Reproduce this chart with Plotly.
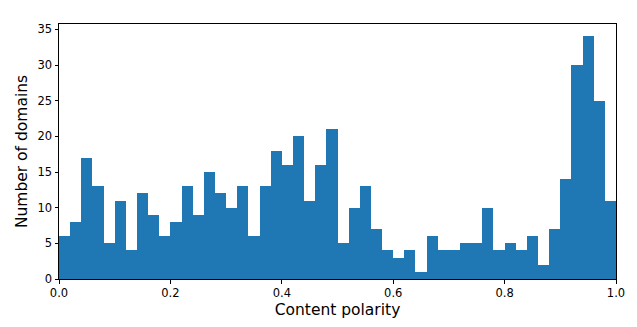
import plotly.graph_objects as go

bin_starts = [round(i * 0.02, 2) for i in range(50)]
counts = [6, 8, 17, 13, 5, 11, 4, 12, 9, 6,
          8, 13, 9, 15, 12, 10, 13, 6, 13, 18,
          16, 20, 11, 16, 21, 5, 10, 13, 7, 4,
          3, 4, 1, 6, 4, 4, 5, 5, 10, 4,
          5, 4, 6, 2, 7, 14, 30, 34, 25, 11]
bin_width = 0.02
x_ticks = [0.0, 0.2, 0.4, 0.6, 0.8, 1.0]
y_ticks = [0, 5, 10, 15, 20, 25, 30, 35]

fig = go.Figure(go.Bar(
    x=[b + bin_width / 2 for b in bin_starts],
    y=counts,
    width=bin_width,
    marker=dict(color="#1f77b4", line=dict(width=0)),
))

axis_common = dict(
    showgrid=False, zeroline=False, showline=True, linecolor="black",
    linewidth=1, mirror=True, ticks="outside", ticklen=3.5, tickcolor="black",
    tickfont=dict(family="DejaVu Sans", size=11.5, color="black"),
)

fig.update_layout(
    width=637, height=327,
    margin=dict(l=59, r=16, t=24, b=45),
    plot_bgcolor="white", paper_bgcolor="white",
    bargap=0, showlegend=False,
    xaxis=dict(range=[0, 1], tickvals=x_ticks, ticktext=[f"{v:.1f}" for v in x_ticks],
               title=dict(text="Content polarity", font=dict(family="DejaVu Sans", size=15.5, color="black"), standoff=4),
               **axis_common),
    yaxis=dict(range=[0, 35.75], tickvals=y_ticks,
               title=dict(text="Number of domains", font=dict(family="DejaVu Sans", size=15.5, color="black"), standoff=6),
               **axis_common),
)

fig.write_html("out.html")
